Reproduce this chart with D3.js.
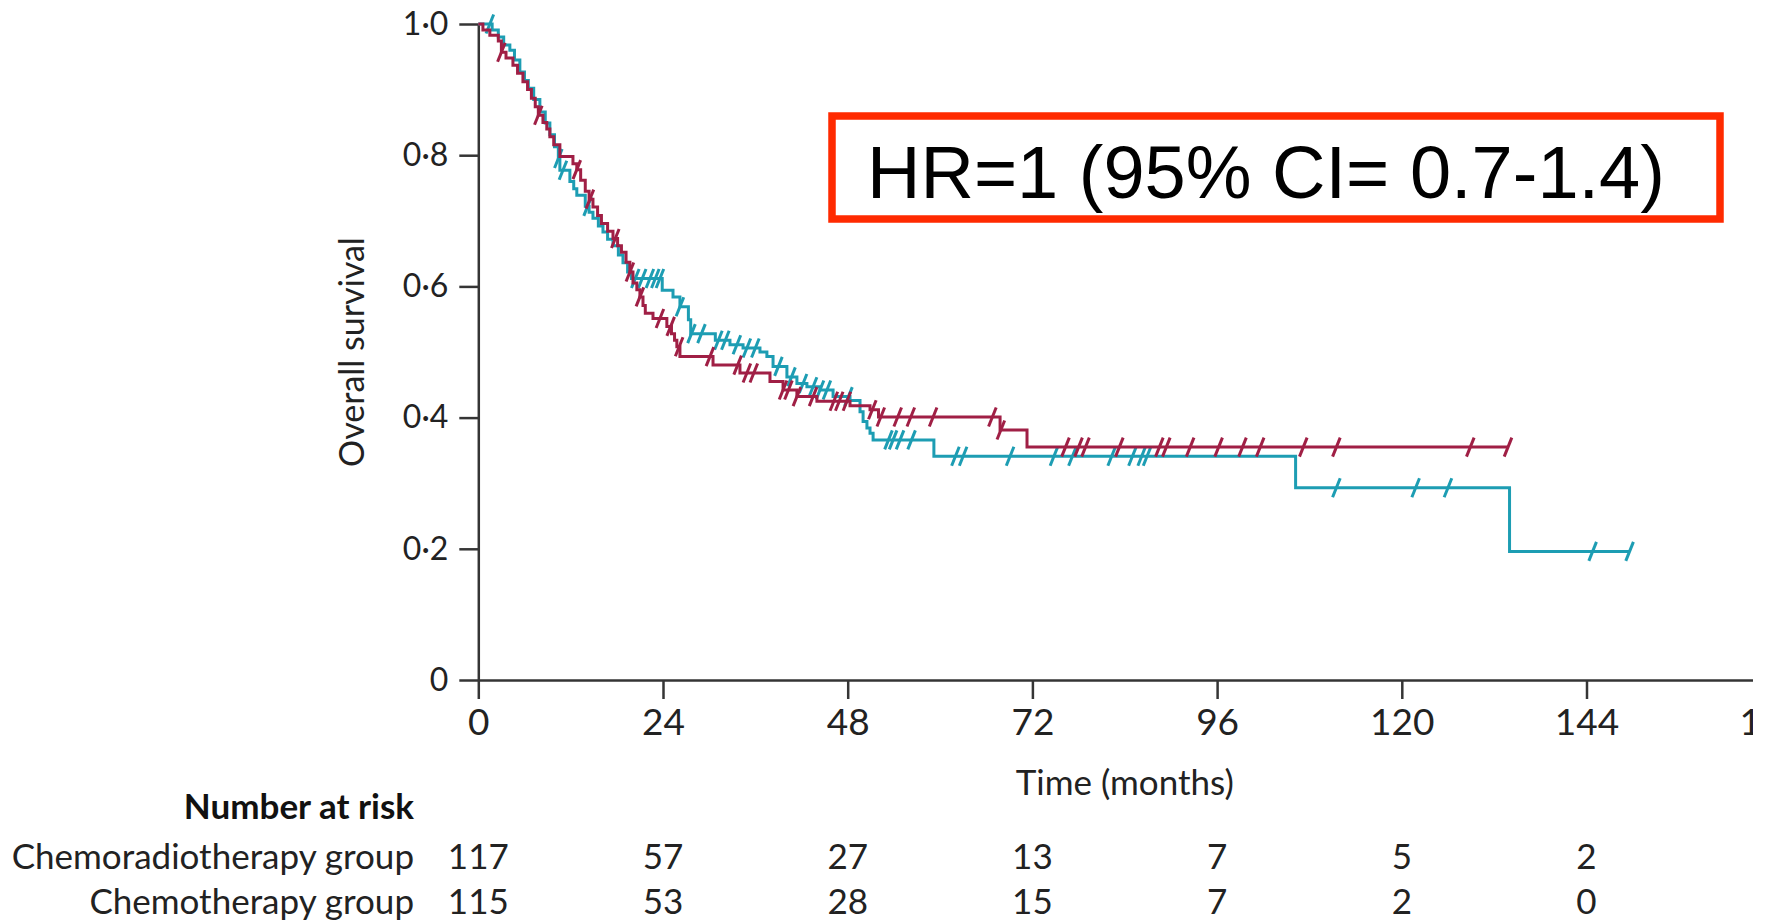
<!DOCTYPE html>
<html>
<head>
<meta charset="utf-8">
<script src="https://cdn.jsdelivr.net/npm/d3@7"></script>
<style>
  body { margin: 0; background: #fff; }
  svg { display: block; }
</style>
</head>
<body>
<div id="chart"></div>
<script>
// axis ticks
var timeTicks = [0, 24, 48, 72, 96, 120, 144, 168];
var survTicks = [0, 0.2, 0.4, 0.6, 0.8, 1.0];

// red curve: [month, survival] at each event
var redSteps = [[0,1],[0.6,0.991],[1.5,0.983],[2.6,0.974],[3.0,0.957],[3.6,0.948],[4.5,0.937],[5.1,0.925],
  [5.8,0.912],[6.4,0.9],[6.9,0.887],[7.4,0.874],[7.8,0.861],[8.4,0.85],[8.9,0.84],[9.3,0.828],[9.8,0.816],
  [10.6,0.798],[12.3,0.787],[12.8,0.778],[13.3,0.762],[13.9,0.745],[14.4,0.733],[14.9,0.721],[15.5,0.708],
  [16.0,0.696],[16.8,0.684],[17.5,0.673],[18.1,0.662],[18.6,0.652],[19.2,0.637],[19.7,0.622],[20.1,0.605],
  [20.6,0.595],[21.0,0.584],[21.4,0.571],[21.7,0.559],[22.7,0.551],[24.5,0.539],[25.1,0.528],[25.5,0.518],
  [25.8,0.508],[26.2,0.493],[30.5,0.48],[34.0,0.468],[37.9,0.455],[39.6,0.442],[41.4,0.432],[44.0,0.425],
  [48.3,0.418],[50.9,0.412],[52.0,0.401],[67.8,0.381],[71.3,0.355]];
var redEnd = 133.8;
var redCensor = [3.0, 7.8, 12.8, 14.5, 17.8, 19.7, 21.0, 23.6, 25.0, 26.1, 30.1, 33.7, 34.9, 35.8, 39.6,
  40.3, 41.4, 43.5, 46.2, 46.9, 47.9, 51.2, 52.3, 54.5, 56.2, 59.1, 66.8, 67.9, 76.3, 78.0, 78.9, 83.3,
  88.5, 89.4, 92.5, 96.2, 99.3, 101.6, 107.2, 111.5, 128.9, 133.8];

// teal curve
var tealSteps = [[0,1],[1.8,0.991],[2.6,0.98],[3.3,0.968],[4.1,0.96],[4.7,0.945],[5.4,0.927],[6.0,0.914],
  [6.5,0.902],[7.2,0.885],[8.0,0.866],[8.7,0.849],[9.3,0.831],[9.9,0.813],[10.4,0.795],[10.6,0.777],
  [11.9,0.76],[12.4,0.749],[12.8,0.739],[13.9,0.722],[14.4,0.713],[14.9,0.704],[15.6,0.692],[16.2,0.683],
  [16.8,0.672],[17.5,0.662],[18.2,0.648],[18.8,0.636],[19.4,0.622],[19.9,0.612],[23.9,0.594],[25.3,0.584],
  [26.2,0.569],[27.3,0.549],[27.6,0.528],[30.8,0.518],[32.7,0.511],[34.4,0.506],[36.6,0.5],[37.5,0.493],
  [38.3,0.478],[40.1,0.462],[41.4,0.452],[42.7,0.447],[44.4,0.442],[46.1,0.432],[48.3,0.426],[49.6,0.409],
  [50.0,0.394],[50.5,0.384],[50.9,0.376],[51.3,0.366],[59.2,0.341],[106.2,0.293],[134.0,0.196]];
var tealEnd = 149.6;
var tealCensor = [1.5, 10.4, 11.0, 14.2, 20.4, 21.3, 22.3, 23.0, 23.6, 26.2, 27.7, 29.0, 31.2, 32.1,
  33.6, 34.9, 36.0, 39.0, 40.7, 42.2, 43.5, 44.4, 45.3, 48.1, 53.3, 53.9, 54.8, 56.3, 62.0, 63.0,
  69.1, 74.8, 77.2, 82.3, 85.0, 86.2, 86.9, 111.5, 121.8, 126.0, 144.8, 149.6];

// number at risk table
var riskTimes = [0, 24, 48, 72, 96, 120, 144];
var riskGroups = ["Chemoradiotherapy group", "Chemotherapy group"];
var riskChemoradio = [117, 57, 27, 13, 7, 5, 2];
var riskChemo = [115, 53, 28, 15, 7, 2, 0];

var hrText = "HR=1 (95% CI= 0.7-1.4)";

var W = 1766, H = 922;
var font = "Lato, 'Open Sans', sans-serif";
var redCol = "#a01f45", tealCol = "#1d9db3", axisCol = "#353535";

var svg = d3.select("#chart").append("svg")
    .attr("width", W)
    .attr("height", H);

// picture was cut at the right edge
svg.append("clipPath").attr("id", "clip")
    .append("rect").attr("x", 0).attr("y", 0).attr("width", 1753).attr("height", H);

var g = svg.append("g").attr("clip-path", "url(#clip)");

var x = d3.scaleLinear().domain([0, 168]).range([478.3, 1771.2]);
var y = d3.scaleLinear().domain([0, 1]).range([680, 24]);

//y axis
var yAxis = d3.axisLeft(y)
    .tickValues(survTicks)
    .tickSize(19)
    .tickSizeOuter(0)
    .tickPadding(11)
    .tickFormat(function(d) {
        return d === 0 ? "0" : d3.format(".1f")(d).replace(".", "\u00b7");
    });
var ya = g.append("g")
    .attr("transform", "translate(" + x(0) + ",0)")
    .call(yAxis);
ya.selectAll("text").attr("font-family", font).attr("font-size", 32).attr("fill", "#222");

//x axis
var xAxis = d3.axisBottom(x)
    .tickValues(timeTicks)
    .tickSize(19)
    .tickSizeOuter(0)
    .tickPadding(10);
var xa = g.append("g")
    .attr("transform", "translate(0," + y(0) + ")")
    .call(xAxis);
xa.selectAll("text").attr("font-family", font).attr("font-size", 37).attr("fill", "#222");

g.selectAll(".domain, .tick line")
    .attr("stroke", axisCol)
    .attr("stroke-width", 2.5);

// axis titles
g.append("text")
    .attr("transform", "translate(364," + y(0.5) + ") rotate(-90)")
    .attr("text-anchor", "middle")
    .attr("font-family", font)
    .attr("font-size", 34)
    .attr("fill", "#222")
    .text("Overall survival");

g.append("text")
    .attr("x", x(84))
    .attr("y", 795)
    .attr("text-anchor", "middle")
    .attr("font-family", font)
    .attr("font-size", 35)
    .attr("fill", "#222")
    .text("Time (months)");

// ---- curves ----
var line = d3.line()
    .x(function(d) { return x(d[0]); })
    .y(function(d) { return y(d[1]); })
    .curve(d3.curveStepAfter);

var bis = d3.bisector(function(d) { return d[0]; }).right;

function drawCurve(steps, endT, censor, col) {
    var pts = steps.concat([[endT, steps[steps.length - 1][1]]]);
    g.append("path")
        .datum(pts)
        .attr("d", line)
        .attr("fill", "none")
        .attr("stroke", col)
        .attr("stroke-width", 3);

    g.selectAll(null)
        .data(censor)
        .enter().append("line")
        .attr("x1", function(d) { return x(d) - 3.8; })
        .attr("x2", function(d) { return x(d) + 3.8; })
        .attr("y1", function(d) { return y(steps[bis(steps, d) - 1][1]) + 9.5; })
        .attr("y2", function(d) { return y(steps[bis(steps, d) - 1][1]) - 9.5; })
        .attr("stroke", col)
        .attr("stroke-width", 3);
}
drawCurve(tealSteps, tealEnd, tealCensor, tealCol);
drawCurve(redSteps, redEnd, redCensor, redCol);

// ---- number at risk ----
g.append("text")
    .attr("x", 414)
    .attr("y", 819)
    .attr("text-anchor", "end")
    .attr("font-family", font)
    .attr("font-size", 35)
    .attr("font-weight", "bold")
    .attr("fill", "#111")
    .text("Number at risk");

var rows = [riskChemoradio, riskChemo];
var rowY = [869, 914];
rows.forEach(function(vals, i) {
    g.append("text")
        .attr("x", 414)
        .attr("y", rowY[i])
        .attr("text-anchor", "end")
        .attr("font-family", font)
        .attr("font-size", 35)
        .attr("fill", "#222")
        .text(riskGroups[i]);
    g.selectAll(null)
        .data(vals)
        .enter().append("text")
        .attr("x", function(d, j) { return x(riskTimes[j]); })
        .attr("y", rowY[i])
        .attr("text-anchor", "middle")
        .attr("font-family", font)
        .attr("font-size", 35)
        .attr("fill", "#222")
        .text(function(d) { return d; });
});

// ---- HR box ----
g.append("rect")
    .attr("x", 832)
    .attr("y", 116)
    .attr("width", 888)
    .attr("height", 103)
    .attr("fill", "none")
    .attr("stroke", "#ff2a00")
    .attr("stroke-width", 7.5);

g.append("text")
    .attr("x", 867)
    .attr("y", 198)
    .attr("font-family", "'Liberation Sans', Arial, sans-serif")
    .attr("font-size", 74)
    .attr("fill", "#000")
    .text(hrText);
</script>
</body>
</html>
